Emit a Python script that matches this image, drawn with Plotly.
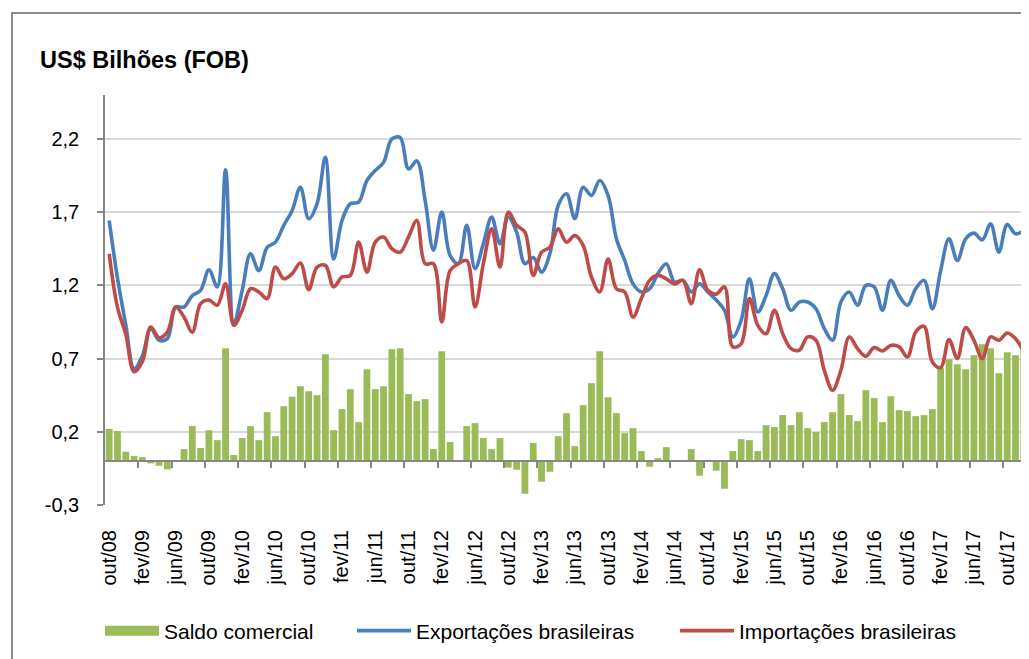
#!/usr/bin/env python3

import plotly.graph_objects as go

MESES = ["jan", "fev", "mar", "abr", "mai", "jun", "jul", "ago", "set", "out", "nov", "dez"]

# out/08 ... dez/17, um rótulo por mês
CATEGORIAS = [f"{MESES[(9 + k) % 12]}/{8 + (9 + k) // 12:02d}" for k in range(111)]

SALDO = [
    0.220, 0.205, 0.064, 0.034, 0.027, -0.016, -0.032, -0.057, 0.002, 0.082,
    0.239, 0.089, 0.211, 0.143, 0.770, 0.041, 0.157, 0.239, 0.143, 0.334,
    0.170, 0.375, 0.439, 0.511, 0.477, 0.450, 0.730, 0.211, 0.355, 0.491,
    0.266, 0.627, 0.491, 0.511, 0.764, 0.770, 0.457, 0.409, 0.423, 0.082,
    0.750, 0.130, 0.003, 0.239, 0.259, 0.157, 0.082, 0.157, -0.045, -0.059,
    -0.223, 0.123, -0.141, -0.073, 0.170, 0.327, 0.102, 0.382, 0.532, 0.750,
    0.436, 0.327, 0.191, 0.225, 0.068, -0.039, 0.020, 0.095, 0.002, 0.007,
    0.082, -0.100, -0.005, -0.066, -0.189, 0.068, 0.150, 0.143, 0.068, 0.245,
    0.232, 0.314, 0.245, 0.334, 0.225, 0.198, 0.266, 0.334, 0.457, 0.314,
    0.273, 0.484, 0.430, 0.266, 0.443, 0.348, 0.341, 0.307, 0.314, 0.355,
    0.634, 0.695, 0.661, 0.627, 0.723, 0.798, 0.770, 0.600, 0.743, 0.723,
    0.825,
]

EXPORTACOES = [
    1.643, 1.250, 0.930, 0.630, 0.720, 0.905, 0.825, 0.836, 1.052, 1.052,
    1.130, 1.166, 1.307, 1.190, 1.990, 0.940, 1.166, 1.416, 1.300, 1.460,
    1.495, 1.610, 1.710, 1.870, 1.655, 1.757, 2.075, 1.380, 1.643, 1.757,
    1.768, 1.916, 1.984, 2.040, 2.200, 2.210, 1.995, 2.050, 1.780, 1.440,
    1.700, 1.405, 1.348, 1.610, 1.314, 1.484, 1.666, 1.484, 1.666, 1.564,
    1.348, 1.390, 1.290, 1.416, 1.745, 1.825, 1.655, 1.870, 1.814, 1.916,
    1.814, 1.518, 1.370, 1.210, 1.155, 1.177, 1.280, 1.348, 1.223, 1.234,
    1.155, 1.210, 1.155, 1.100, 1.030, 0.848, 0.960, 1.245, 1.018, 1.130,
    1.280, 1.177, 1.030, 1.086, 1.086, 1.040, 0.905, 0.825, 1.086, 1.155,
    1.064, 1.200, 1.189, 1.030, 1.234, 1.130, 1.064, 1.177, 1.234, 1.040,
    1.302, 1.518, 1.370, 1.518, 1.557, 1.511, 1.620, 1.427, 1.616, 1.552,
    1.575,
]

IMPORTACOES = [
    1.416, 1.050, 0.865, 0.610, 0.680, 0.916, 0.843, 0.880, 1.052, 0.984,
    0.880, 1.075, 1.100, 1.064, 1.210, 0.927, 1.030, 1.177, 1.155, 1.110,
    1.325, 1.245, 1.280, 1.352, 1.170, 1.325, 1.336, 1.190, 1.257, 1.268,
    1.495, 1.290, 1.495, 1.530, 1.450, 1.427, 1.530, 1.643, 1.348, 1.348,
    0.950, 1.300, 1.348, 1.370, 1.052, 1.348, 1.586, 1.325, 1.700, 1.610,
    1.564, 1.268, 1.427, 1.460, 1.586, 1.495, 1.540, 1.473, 1.257, 1.155,
    1.380, 1.177, 1.155, 0.984, 1.110, 1.234, 1.268, 1.245, 1.210, 1.234,
    1.075, 1.307, 1.166, 1.140, 1.190, 0.780, 0.800, 1.110, 0.927, 0.870,
    1.030, 0.870, 0.768, 0.757, 0.848, 0.825, 0.620, 0.484, 0.620, 0.848,
    0.768, 0.716, 0.775, 0.752, 0.790, 0.780, 0.711, 0.882, 0.920, 0.677,
    0.639, 0.830, 0.700, 0.911, 0.825, 0.700, 0.848, 0.825, 0.875, 0.836,
    0.745,
]

Y_MIN, Y_MAX, Y_PASSO = -0.3, 2.5, 0.5
PASSO_ROTULO = 4

VERDE, AZUL, VERMELHO = "#9BBB59", "#4A7EBB", "#BE4B48"
CINZA_EIXO = "#868686"
FONTE = "Liberation Sans, Arial, sans-serif"

# a página tem 8px de margem no body, então a figura é 8px menor
OFF = 8
W, H = 1029 - OFF, 659 - OFF
M_L, M_R, M_T, M_B = 105 - OFF, 1, 95 - OFF, 154
PLOT_W = W - M_L - M_R
PLOT_H = H - M_T - M_B
ITEM_W = 54


def px_x(page_x):
    return (page_x - OFF - M_L) / PLOT_W


def px_y(page_y):
    return (H - M_B - (page_y - OFF)) / PLOT_H


def main():
    n = len(CATEGORIAS)
    idx = list(range(n))

    fig = go.Figure()
    fig.add_trace(go.Bar(
        x=idx, y=SALDO, name="Saldo comercial", showlegend=False,
        marker=dict(color=VERDE, line=dict(width=0)),
    ))
    # entrada da legenda do saldo: faixa verde larga como no original
    fig.add_trace(go.Scatter(
        x=[None], y=[None], name="Saldo comercial", mode="lines",
        line=dict(color=VERDE, width=11), xaxis="x2", legend="legend",
    ))
    fig.add_trace(go.Scatter(
        x=idx, y=EXPORTACOES, name="Exportações brasileiras", mode="lines",
        line=dict(color=AZUL, width=3.6, shape="spline", smoothing=1.0),
        xaxis="x2", legend="legend2",
    ))
    fig.add_trace(go.Scatter(
        x=idx, y=IMPORTACOES, name="Importações brasileiras", mode="lines",
        line=dict(color=VERMELHO, width=3.6, shape="spline", smoothing=1.0),
        xaxis="x2", legend="legend3",
    ))

    y_ticks = [round(Y_MIN + k * Y_PASSO, 1) for k in range(int((Y_MAX - Y_MIN) / Y_PASSO) + 1)]
    y_text = [f"{v:.1f}".replace(".", ",") for v in y_ticks]

    leg = dict(
        orientation="h", xanchor="left", y=px_y(631), yanchor="middle",
        font=dict(family=FONTE, size=21, color="black"),
        bgcolor="rgba(0,0,0,0)", itemwidth=ITEM_W,
    )

    fig.update_layout(
        width=W, height=H,
        margin=dict(l=M_L, r=M_R, t=M_T, b=M_B, autoexpand=False),
        paper_bgcolor="white", plot_bgcolor="white",
        font=dict(family=FONTE, color="black", size=20),
        bargap=0.18,
        showlegend=True,
        title=dict(
            text="<b>US$ Bilhões (FOB)</b>",
            font=dict(family=FONTE, size=23.5, color="black"),
            xref="container", yref="container",
            x=(40 - OFF) / W, xanchor="left", y=1 - (60 - OFF) / H, yanchor="middle",
        ),
        legend=dict(leg, x=px_x(164 - ITEM_W - 10)),
        legend2=dict(leg, x=px_x(416 - ITEM_W - 10)),
        legend3=dict(leg, x=px_x(739 - ITEM_W - 10)),
        yaxis=dict(
            range=[Y_MIN, Y_MAX], tickmode="array", tickvals=y_ticks, ticktext=y_text,
            showgrid=True, gridcolor="#D9D9D9", gridwidth=1.5,
            showline=True, linecolor=CINZA_EIXO, linewidth=1.5,
            ticks="outside", ticklen=6, tickcolor=CINZA_EIXO, tickwidth=1.5,
            zeroline=False, ticklabelstandoff=14,
            tickfont=dict(family=FONTE, size=20, color="black"),
        ),
        # rótulos dos meses embaixo
        xaxis=dict(
            anchor="y", side="bottom",
            range=[-0.5, n - 0.5],
            tickmode="array",
            tickvals=idx[::PASSO_ROTULO],
            ticktext=CATEGORIAS[::PASSO_ROTULO],
            tickangle=-90, ticks="", showline=False, showgrid=False,
            zeroline=False, ticklabelstandoff=20,
            tickfont=dict(family=FONTE, size=20, color="black"),
        ),
        # eixo das categorias cruzando em zero, com marcas entre os meses
        xaxis2=dict(
            overlaying="x",
            range=[-0.5, n - 0.5],
            tickmode="array",
            tickvals=[i - 0.5 for i in range(PASSO_ROTULO, n, PASSO_ROTULO)],
            showticklabels=False,
            ticks="outside", ticklen=6, tickcolor=CINZA_EIXO, tickwidth=1.5,
            showline=True, linecolor=CINZA_EIXO, linewidth=1.5,
            showgrid=False, zeroline=False,
            anchor="free", position=(0 - Y_MIN) / (Y_MAX - Y_MIN),
        ),
    )

    # moldura do gráfico (só esquerda e topo aparecem no recorte)
    fig.add_shape(
        type="rect", xref="paper", yref="paper", layer="below",
        x0=px_x(12), x1=1.2, y0=-1.0, y1=px_y(13),
        line=dict(color="#8C8C8C", width=2), fillcolor="rgba(0,0,0,0)",
    )

    fig.write_html("out.html")


if __name__ == "__main__":
    main()
